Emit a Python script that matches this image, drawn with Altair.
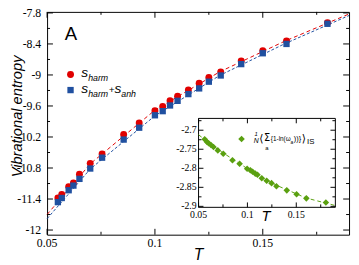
import altair as alt
import pandas as pd

# ---------------- data ----------------
T_main = [0.055, 0.0568, 0.060, 0.0622, 0.065, 0.070, 0.0755, 0.0855, 0.0927, 0.100, 0.1036,
          0.107, 0.1105, 0.1155, 0.1205, 0.125, 0.1305, 0.140, 0.150, 0.161, 0.180]
s_harm = [-11.38, -11.31, -11.16, -11.09, -10.92, -10.71, -10.53, -10.15, -9.93, -9.69, -9.61,
          -9.50, -9.41, -9.29, -9.16, -9.05, -8.94, -8.73, -8.53, -8.34, -7.99]
s_harm_anh = [-11.46, -11.38, -11.23, -11.14, -11.01, -10.81, -10.60, -10.25, -10.02, -9.78, -9.70,
              -9.59, -9.50, -9.37, -9.26, -9.13, -9.01, -8.79, -8.58, -8.40, -8.01]

T_fit = [0.05, 0.07, 0.10, 0.13, 0.16, 0.19]
fit_harm = [-11.70, -10.72, -9.68, -8.94, -8.35, -7.82]
fit_harm_anh = [-11.78, -10.82, -9.79, -9.01, -8.40, -7.85]

T_inset = [0.0563, 0.0587, 0.0603, 0.0627, 0.0653, 0.0697, 0.0753, 0.0847, 0.092, 0.0997, 0.103,
           0.1053, 0.108, 0.1103, 0.1147, 0.1197, 0.1247, 0.1297, 0.1403, 0.1503, 0.1603, 0.1803]
inset_vals = [-2.724, -2.731, -2.734, -2.739, -2.744, -2.753, -2.762, -2.779, -2.788, -2.801, -2.805,
              -2.809, -2.814, -2.817, -2.826, -2.833, -2.839, -2.847, -2.858, -2.868, -2.879, -2.890]
T_inset_fit = [0.05, 0.07, 0.10, 0.13, 0.16, 0.19]
inset_fit = [-2.712, -2.751, -2.801, -2.845, -2.878, -2.898]

x_major = [0.05, 0.1, 0.15]
x_labels = ["0.05", "0.1", "0.15"]
x_minor = [0.075, 0.125, 0.175]
y_major = [-12, -11.4, -10.8, -10.2, -9.6, -9, -8.4, -7.8]
y_labels = ["-12", "-11.4", "-10.8", "-10.2", "-9.6", "-9", "-8.4", "-7.8"]
y_minor = [-11.7, -11.1, -10.5, -9.9, -9.3, -8.7, -8.1]
yi_major = [-2.9, -2.85, -2.8, -2.75, -2.7]
yi_minor = [-2.875, -2.825, -2.775, -2.725, -2.675]
yi_labels = ["-2.9", "-2.85", "-2.8", "-2.75", "-2.7"]
xi_major = [0.05, 0.1, 0.15]
xi_minor = [0.075, 0.125, 0.175]
xi_labels = ["0.05", "0.1", "0.15"]

RED = "#e00000"
BLUE = "#2050a0"
GREEN = "#5aa010"

# ---------------- layout ----------------
W, H = 309, 228
xs = alt.Scale(domain=[0.05, 0.19], nice=False, zero=False)
ys = alt.Scale(domain=[-12.09, -7.78], nice=False, zero=False)
IX0, IX1, IY0, IY1 = 155, 295, 109, 200
xi = alt.Scale(domain=[0.05, 0.19], range=[IX0, IX1], nice=False, zero=False)
yi = alt.Scale(domain=[-2.9026, -2.669], range=[IY1, IY0], nice=False, zero=False)

SERIF = "Liberation Serif"
SANS = "Liberation Sans"


def txt(text, x, y, size, style="normal", align="left", baseline="alphabetic", font=SANS,
        color="black", angle=0):
    return alt.Chart(pd.DataFrame({"t": [text]})).mark_text(
        fontSize=size, fontStyle=style, align=align, baseline=baseline, font=font, color=color,
        angle=angle
    ).encode(x=alt.value(x), y=alt.value(y), text="t:N")


def X(field):
    return alt.X(field, scale=xs, axis=None)


def Y(field):
    return alt.Y(field, scale=ys, axis=None)


df_h = pd.DataFrame({"T": T_main, "S": s_harm})
df_a = pd.DataFrame({"T": T_main, "S": s_harm_anh})
df_fh = pd.DataFrame({"T": T_fit, "S": fit_harm})
df_fa = pd.DataFrame({"T": T_fit, "S": fit_harm_anh})

fit_red = alt.Chart(df_fh).mark_line(color=RED, strokeDash=[4, 3], strokeWidth=1).encode(
    x=X("T:Q"), y=Y("S:Q"))
fit_blue = alt.Chart(df_fa).mark_line(color=BLUE, strokeDash=[3, 2], strokeWidth=1).encode(
    x=X("T:Q"), y=Y("S:Q"))
pts_red = alt.Chart(df_h).mark_point(shape="circle", filled=True, size=50, color=RED, opacity=1).encode(
    x=X("T:Q"), y=Y("S:Q"))
pts_blue = alt.Chart(df_a).mark_point(shape="square", filled=True, size=42, color=BLUE, opacity=1).encode(
    x=X("T:Q"), y=Y("S:Q"))


def yticks(vals, Yenc, x_left, x_right, length):
    d = pd.DataFrame({"v": vals})
    left = alt.Chart(d).mark_rule(color="black", strokeWidth=1).encode(
        y=Yenc("v:Q"), x=alt.value(x_left), x2=alt.value(x_left + length))
    right = alt.Chart(d).mark_rule(color="black", strokeWidth=1).encode(
        y=Yenc("v:Q"), x=alt.value(x_right - length), x2=alt.value(x_right))
    return [left, right]


def xticks(vals, Xenc, y_top, y_bottom, length):
    d = pd.DataFrame({"v": vals})
    top = alt.Chart(d).mark_rule(color="black", strokeWidth=1).encode(
        x=Xenc("v:Q"), y=alt.value(y_top), y2=alt.value(y_top + length))
    bot = alt.Chart(d).mark_rule(color="black", strokeWidth=1).encode(
        x=Xenc("v:Q"), y=alt.value(y_bottom - length), y2=alt.value(y_bottom))
    return [top, bot]


main_ticks = (yticks(y_major, Y, 0, W, 6) + yticks(y_minor, Y, 0, W, 3)
              + xticks(x_major, X, 0, H, 6) + xticks(x_minor, X, 0, H, 3))

main_ylab = alt.Chart(pd.DataFrame({"v": y_major, "t": y_labels})).mark_text(
    font=SERIF, fontSize=12, align="right", baseline="middle", color="black").encode(
    y=Y("v:Q"), x=alt.value(-6), text="t:N")
main_xlab = alt.Chart(pd.DataFrame({"v": x_major, "t": x_labels})).mark_text(
    font=SERIF, fontSize=12, align="center", baseline="middle", color="black").encode(
    x=X("v:Q"), y=alt.value(H + 9), text="t:N")

titles = [
    txt("Vibrational entropy", -26, 107, 15, "italic", align="center", angle=270),
    txt("T", 155, 254, 16, "italic", align="center"),
]

legend_marks = [
    alt.Chart(pd.DataFrame({"a": [0]})).mark_point(shape="circle", filled=True, size=50, color=RED, opacity=1)
    .encode(x=alt.value(24), y=alt.value(64)),
    alt.Chart(pd.DataFrame({"a": [0]})).mark_point(shape="square", filled=True, size=42, color=BLUE, opacity=1)
    .encode(x=alt.value(24), y=alt.value(80)),
    txt("s", 35, 67, 14, "italic"),
    txt("harm", 42, 71, 9, "italic"),
    txt("s", 35, 83, 14, "italic"),
    txt("harm", 42, 87, 9, "italic"),
    txt("+", 63, 83, 10, "italic"),
    txt("s", 69, 83, 14, "italic"),
    txt("anh", 76, 87, 9, "italic"),
    txt("A", 24.5, 29, 19, "normal", align="center"),
]

main = alt.layer(fit_red, fit_blue, pts_red, pts_blue, *main_ticks, main_ylab, main_xlab,
                 *titles, *legend_marks)

# ---------------- inset ----------------
def XI(field):
    return alt.X(field, scale=xi, axis=None)


def YI(field):
    return alt.Y(field, scale=yi, axis=None)


box = alt.Chart(pd.DataFrame({"x": [0.05], "x2": [0.19], "y": [-2.9026], "y2": [-2.669]})).mark_rect(
    fill="white", stroke="black", strokeWidth=1).encode(
    x=XI("x:Q"), x2="x2:Q", y=YI("y:Q"), y2="y2:Q")
inset_fit_line = alt.Chart(pd.DataFrame({"T": T_inset_fit, "V": inset_fit})).mark_line(
    color=GREEN, strokeDash=[4, 3], strokeWidth=1).encode(x=XI("T:Q"), y=YI("V:Q"))
inset_pts = alt.Chart(pd.DataFrame({"T": T_inset, "V": inset_vals})).mark_point(
    shape="diamond", filled=True, size=45, color=GREEN, opacity=1).encode(x=XI("T:Q"), y=YI("V:Q"))

inset_ticks = (yticks(yi_major, YI, IX0, IX1, 5) + yticks(yi_minor, YI, IX0, IX1, 3)
               + xticks(xi_major, XI, IY0, IY1, 5) + xticks(xi_minor, XI, IY0, IY1, 3))

ylab = alt.Chart(pd.DataFrame({"v": yi_major, "t": yi_labels})).mark_text(
    font=SERIF, fontSize=10, align="right", baseline="middle", color="black").encode(
    y=YI("v:Q"), x=alt.value(IX0 - 2), text="t:N")
xlab = alt.Chart(pd.DataFrame({"v": xi_major, "t": xi_labels})).mark_text(
    font=SERIF, fontSize=10, align="center", baseline="middle", color="black").encode(
    x=XI("v:Q"), y=alt.value(IY1 + 8), text="t:N")

inset_legend = [
    alt.Chart(pd.DataFrame({"a": [0]})).mark_point(shape="diamond", filled=True, size=45, color=GREEN, opacity=1)
    .encode(x=alt.value(199), y=alt.value(130)),
    txt("1", 214, 125.5, 6, "italic", align="center", baseline="middle"),
    txt("N", 214, 132, 7, "italic", align="center", baseline="middle"),
    txt("⟨", 217, 130, 11, align="left", baseline="middle", font="DejaVu Sans"),
    txt("Σ", 222, 129.5, 10, align="left", baseline="middle", font="DejaVu Sans"),
    txt("a", 225, 139, 6, align="center", baseline="middle"),
    txt("{1-ln(ω", 229, 130, 6.5, align="left", baseline="middle"),
    txt("a", 249, 133, 5, align="left", baseline="middle"),
    txt("))}", 252.5, 130, 7.5, align="left", baseline="middle"),
    txt("⟩", 260.5, 130, 11, align="left", baseline="middle", font="DejaVu Sans"),
    txt("IS", 266, 133, 8, align="left", baseline="middle"),
    txt("T", 224, 214, 15, "italic", align="center", baseline="alphabetic"),
]

inset = alt.layer(box, inset_fit_line, inset_pts, *inset_ticks, ylab, xlab, *inset_legend)

chart = alt.layer(main, inset).resolve_scale(x="independent", y="independent").properties(
    width=W, height=H, autosize=alt.AutoSizeParams(type="none"),
    padding={"left": 40, "top": 1, "right": 2, "bottom": 27},
    background="white",
).configure_view(stroke="black", strokeWidth=1)

chart.save("out.html", embed_options={"renderer": "svg", "actions": False})
